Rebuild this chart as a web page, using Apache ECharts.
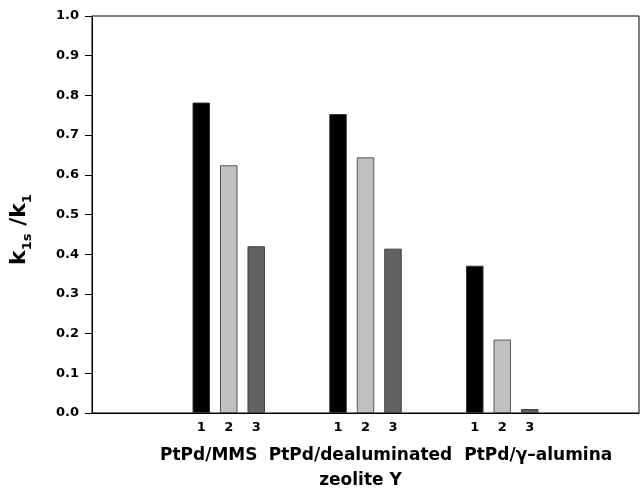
<!DOCTYPE html>
<html><head><meta charset="utf-8">
<script src="https://cdn.jsdelivr.net/npm/echarts@6/dist/echarts.min.js"></script>
<style>html,body{margin:0;padding:0;background:#fff}#c{width:642px;height:489px}</style>
</head><body><div id="c"></div>
<script>
const groups = ['', 'PtPd/MMS', 'PtPd/dealuminated\nzeolite Y', 'PtPd/\u03b3\u2013alumina', ''];
const run1 = [null, 0.782, 0.753, 0.371, null];
const run2 = [null, 0.624, 0.644, 0.185, null];
const run3 = [null, 0.420, 0.414, 0.010, null];
const runLabels = ['1', '2', '3'];
const yMin = 0, yMax = 1.0, yStep = 0.1;

const FF = '"DejaVu Sans", Arial, sans-serif';
const chart = echarts.init(document.getElementById('c'), null, {renderer: 'canvas'});
const labelShift = {1: [0, 40, 0, 0], 2: [0, 10, 0, 0], 3: [0, 0, 0, 72]};
const rich = {};
[0,1,2,3,4].forEach(i => {
  rich['g' + i] = {fontFamily: FF, fontWeight: 'bold', fontSize: 17, color: '#000', lineHeight: 25, padding: labelShift[i] || 0};
});
function barSeries(vals, idx, color, border) {
  return {
    type: 'bar', data: vals, barWidth: 17.5, barGap: '57%',
    itemStyle: {color: color, borderColor: border, borderWidth: 1},
    label: {show: true, position: 'bottom', distance: 8, formatter: runLabels[idx],
      fontFamily: FF, fontWeight: 'bold', fontSize: 13, color: '#000'},
    silent: true, animation: false
  };
}
chart.setOption({
  animation: false,
  grid: {left: 90, right: 2, top: 16, bottom: 75, show: true, borderColor: '#000', borderWidth: 1},
  xAxis: {
    type: 'category', data: groups, boundaryGap: false,
    axisLine: {lineStyle: {color: '#000', width: 1}},
    axisTick: {show: false}, splitLine: {show: false},
    axisLabel: {interval: 0, margin: 30, formatter: (v, i) => v ? '{g' + i + '|' + v + '}' : '', rich: rich}
  },
  yAxis: {
    type: 'value', min: yMin, max: yMax, interval: yStep,
    axisLine: {show: true, lineStyle: {color: '#000', width: 1}},
    axisTick: {show: true, length: 7, lineStyle: {color: '#000'}},
    splitLine: {show: false},
    axisLabel: {margin: 13, formatter: v => v.toFixed(1), fontFamily: FF, fontWeight: 'bold', fontSize: 13, color: '#000'},
    name: '{k|k}{s|1s}{k| /k}{s|1}', nameLocation: 'middle', nameGap: 58,
    nameTextStyle: {padding: [0, 30, 0, 0], rich: {
      k: {fontFamily: FF, fontWeight: 'bold', fontSize: 22, color: '#000', lineHeight: 30, verticalAlign: 'middle'},
      s: {fontFamily: FF, fontWeight: 'bold', fontSize: 13, color: '#000', lineHeight: 30, verticalAlign: 'bottom'}
    }}
  },
  series: [
    barSeries(run1, 0, '#000000', '#333333'),
    barSeries(run2, 1, '#c0c0c0', '#555555'),
    barSeries(run3, 2, '#626262', '#404040')
  ]
});
</script></body></html>
